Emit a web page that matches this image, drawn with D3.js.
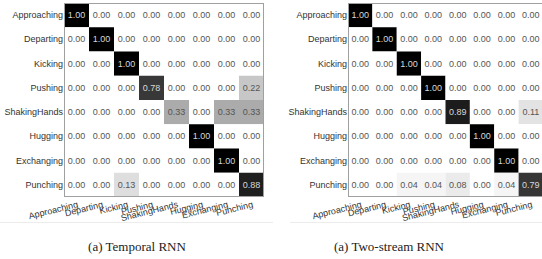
<!DOCTYPE html>
<meta charset="utf-8">
<html>
<head>
    <title>Confusion Matrices</title>
    <script src="https://cdn.jsdelivr.net/npm/d3@7"></script>
    <style>
        body { margin: 0; background: #fff; }
        .label { font-family: "Liberation Sans", Arial, sans-serif; font-size: 9px; fill: #333; }
        .val { font-family: "Liberation Sans", Arial, sans-serif; font-size: 9px; }
        .caption { font-family: "Liberation Serif", "Times New Roman", serif; font-size: 13px; fill: #222; }
    </style>
</head>
<body>
<div id="chart"></div>
<script>
    // class names (rows = true, columns = predicted)
    var classes = ["Approaching", "Departing", "Kicking", "Pushing",
        "ShakingHands", "Hugging", "Exchanging", "Punching"];

    var temporalRNN = [
        [1.00, 0.00, 0.00, 0.00, 0.00, 0.00, 0.00, 0.00],
        [0.00, 1.00, 0.00, 0.00, 0.00, 0.00, 0.00, 0.00],
        [0.00, 0.00, 1.00, 0.00, 0.00, 0.00, 0.00, 0.00],
        [0.00, 0.00, 0.00, 0.78, 0.00, 0.00, 0.00, 0.22],
        [0.00, 0.00, 0.00, 0.00, 0.33, 0.00, 0.33, 0.33],
        [0.00, 0.00, 0.00, 0.00, 0.00, 1.00, 0.00, 0.00],
        [0.00, 0.00, 0.00, 0.00, 0.00, 0.00, 1.00, 0.00],
        [0.00, 0.00, 0.13, 0.00, 0.00, 0.00, 0.00, 0.88]
    ];

    var twoStreamRNN = [
        [1.00, 0.00, 0.00, 0.00, 0.00, 0.00, 0.00, 0.00],
        [0.00, 1.00, 0.00, 0.00, 0.00, 0.00, 0.00, 0.00],
        [0.00, 0.00, 1.00, 0.00, 0.00, 0.00, 0.00, 0.00],
        [0.00, 0.00, 0.00, 1.00, 0.00, 0.00, 0.00, 0.00],
        [0.00, 0.00, 0.00, 0.00, 0.89, 0.00, 0.00, 0.11],
        [0.00, 0.00, 0.00, 0.00, 0.00, 1.00, 0.00, 0.00],
        [0.00, 0.00, 0.00, 0.00, 0.00, 0.00, 1.00, 0.00],
        [0.00, 0.00, 0.04, 0.04, 0.08, 0.00, 0.04, 0.79]
    ];

    var captions = ["(a) Temporal RNN", "(a) Two-stream RNN"];

    var width = 542, height = 259;

    var svg = d3.select("#chart").append("svg")
        .attr("width", width)
        .attr("height", height);

    // grayscale: 0 -> white, 1 -> black
    var color = d3.scaleLinear().domain([0, 1]).range(["#ffffff", "#000000"]);

    var panels = [
        { data: temporalRNN, left: 64, w: 200, caption: captions[0], capX: 137, sep: [0, 273] },
        { data: twoStreamRNN, left: 348, w: 195, caption: captions[1], capX: 389, sep: [290, 542] }
    ];

    var gridTop = 3, gridH = 194;

    panels.forEach(function (p) {
        var gridW = p.w;
        var x = d3.scaleBand().domain(classes).range([p.left, p.left + gridW]);
        var y = d3.scaleBand().domain(classes).range([gridTop, gridTop + gridH]);

        var g = svg.append("g");

        // faint separator under the matrix
        g.append("line")
            .attr("x1", p.sep[0]).attr("x2", p.sep[1])
            .attr("y1", 222.5).attr("y2", 222.5)
            .attr("stroke", "#ececec").attr("stroke-width", 1);

        var cells = [];
        p.data.forEach(function (row, i) {
            row.forEach(function (v, j) {
                cells.push({ r: classes[i], c: classes[j], v: v });
            });
        });

        g.selectAll("rect.cell")
            .data(cells)
            .enter()
            .append("rect")
            .attr("class", "cell")
            .attr("x", function (d) { return x(d.c); })
            .attr("y", function (d) { return y(d.r); })
            .attr("width", x.bandwidth())
            .attr("height", y.bandwidth())
            .attr("fill", function (d) { return color(d.v); });

        g.selectAll("text.val")
            .data(cells)
            .enter()
            .append("text")
            .attr("class", "val")
            .attr("x", function (d) { return x(d.c) + x.bandwidth() / 2; })
            .attr("y", function (d) { return y(d.r) + y.bandwidth() / 2 + 3; })
            .attr("text-anchor", "middle")
            .attr("fill", function (d) { return d.v > 0.5 ? "#d8d8d8" : "#555"; })
            .text(function (d) { return d.v.toFixed(2); });

        // border
        g.append("rect")
            .attr("x", p.left + 0.5).attr("y", gridTop + 0.5)
            .attr("width", gridW - 1).attr("height", gridH - 1)
            .attr("fill", "none")
            .attr("stroke", "#a0a0a0")
            .attr("stroke-width", 1);

        // row labels
        g.selectAll("text.rowlab")
            .data(classes)
            .enter()
            .append("text")
            .attr("class", "label")
            .attr("x", p.left - 1)
            .attr("y", function (d) { return y(d) + y.bandwidth() / 2 + 3; })
            .attr("text-anchor", "end")
            .text(function (d) { return d; });

        // column labels, rotated
        g.selectAll("text.collab")
            .data(classes)
            .enter()
            .append("text")
            .attr("class", "label")
            .attr("text-anchor", "end")
            .attr("transform", function (d) {
                return "translate(" + (x(d) + x.bandwidth() / 2 + 2) + "," + (gridTop + gridH + 10) + ") rotate(-14)";
            })
            .text(function (d) { return d; });

        svg.append("text")
            .attr("class", "caption")
            .attr("x", p.capX)
            .attr("y", 251)
            .attr("text-anchor", "middle")
            .text(p.caption);
    });
</script>
</body>
</html>
